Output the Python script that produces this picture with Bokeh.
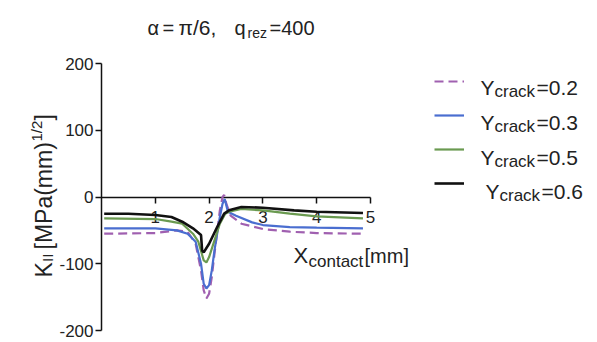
from bokeh.plotting import figure
from bokeh.models import LinearAxis, FixedTicker, Label, Legend, LegendItem, Range1d
from bokeh.embed import file_html
from bokeh.resources import INLINE
import math

# ---------------- data ----------------
x_02 = [0.05, 1.0, 1.4, 1.6, 1.75, 1.85, 1.9, 1.95, 2.0, 2.05, 2.1, 2.2, 2.25, 2.28, 2.32, 2.4, 2.6, 3.0, 3.5, 4.0, 4.86]
y_02 = [-55, -54, -50, -52, -70, -110, -140, -152, -145, -120, -85, -20, 0, 3, -10, -28, -40, -48, -52, -54, -55]

x_03 = [0.05, 1.0, 1.4, 1.6, 1.75, 1.85, 1.9, 1.95, 2.0, 2.05, 2.1, 2.2, 2.25, 2.29, 2.35, 2.5, 2.8, 3.0, 3.5, 4.0, 4.86]
y_03 = [-47, -47, -50, -55, -67, -100, -130, -137, -132, -110, -80, -30, -10, -3, -22, -28, -38, -42, -45, -46, -47]

x_05 = [0.05, 1.0, 1.3, 1.5, 1.7, 1.8, 1.9, 1.95, 2.0, 2.1, 2.2, 2.3, 2.37, 2.6, 3.0, 3.5, 4.0, 4.86]
y_05 = [-32, -33, -37, -40, -55, -67, -95, -98, -90, -65, -40, -25, -22, -18, -20, -25, -29, -32]

x_06 = [0.05, 0.5, 1.0, 1.3, 1.5, 1.7, 1.85, 1.87, 1.9, 2.0, 2.15, 2.28, 2.37, 2.6, 3.0, 3.58, 4.0, 4.86]
y_06 = [-25, -25, -27, -30, -37, -47, -57, -80, -83, -70, -45, -25, -20, -15, -16, -20, -22, -24]

series_names = ["0.2", "0.3", "0.5", "0.6"]
y_ticks = [-200, -100, 0, 100, 200]
y_tick_labels = {-200: "-200", -100: "-100", 0: "0", 100: "100", 200: "200"}
x_ticks = [1, 2, 3, 4, 5]
x_bounds = (0, 5)
y_bounds = (-200, 200)

# ---------------- layout ----------------
W, H = 597, 342
AL, AR, AT, AB = 101, 370, 63, 330  # where the axis box sits on the canvas (px)
FONT = "Liberation Sans"

sx = (AR - AL) / (x_bounds[1] - x_bounds[0])
sy = (AB - AT) / (y_bounds[1] - y_bounds[0])
x_range = Range1d(x_bounds[0] - AL / sx, x_bounds[1] + (W - AR) / sx)
y_range = Range1d(y_bounds[0] - (H - AB) / sy, y_bounds[1] + AT / sy)

p = figure(width=W, height=H, output_backend="svg", toolbar_location=None,
           x_range=x_range, y_range=y_range,
           min_border_left=0, min_border_right=0, min_border_top=0, min_border_bottom=0,
           x_axis_location=None, y_axis_location=None)
p.outline_line_color = None
p.grid.visible = False
p.background_fill_color = "white"
p.border_fill_color = "white"


def style_axis(ax):
    ax.axis_line_color = "#111111"
    ax.axis_line_width = 1.5
    ax.major_tick_line_color = "#111111"
    ax.major_tick_line_width = 1.5
    ax.minor_tick_line_color = None
    ax.major_label_text_font = FONT
    ax.major_label_text_font_size = "17px"
    ax.major_label_text_color = "#222222"


ya = LinearAxis(fixed_location=0, bounds=y_bounds, ticker=FixedTicker(ticks=y_ticks),
                major_label_overrides=y_tick_labels)
style_axis(ya)
ya.major_tick_out = 6
ya.major_tick_in = 0
ya.major_label_standoff = 2
p.add_layout(ya, "left")

xa = LinearAxis(fixed_location=0, bounds=x_bounds, ticker=FixedTicker(ticks=x_ticks))
style_axis(xa)
xa.major_tick_out = 6
xa.major_tick_in = 0
xa.major_label_standoff = 8
xa.level = "underlay"
p.add_layout(xa, "below")

# curves
r02 = p.line(x_02, y_02, line_color="#a060b0", line_width=2.2, line_dash="9 5")
r03 = p.line(x_03, y_03, line_color="#4a6ed0", line_width=2.2)
r05 = p.line(x_05, y_05, line_color="#6a9a50", line_width=2.2)
r06 = p.line(x_06, y_06, line_color="#111111", line_width=2.6)

# legend (samples only; texts added as labels)
legend = Legend(items=[LegendItem(label=" ", renderers=[r]) for r in (r02, r03, r05, r06)],
                location=(434, H - 193), orientation="vertical",
                glyph_width=30, glyph_height=20, label_height=20, label_width=0,
                label_standoff=0, spacing=14, padding=0, margin=0,
                border_line_alpha=0, background_fill_alpha=0,
                label_text_font_size="6px")
p.add_layout(legend, "center")


def lab(text, px, py, size, angle=0.0, color="#222222"):
    p.add_layout(Label(x=px, y=H - py, x_units="screen", y_units="screen",
                       text=text, text_font=FONT, text_font_size=f"{size}px",
                       text_color=color, text_align="left", text_baseline="alphabetic",
                       angle=angle))


# title
lab("α", 147, 27, 20)
lab("=", 162, 27, 20)
lab("π/6,", 178, 27, 21)
lab("q", 234, 27, 20)
lab("rez", 247, 32, 14)
lab("=400", 269, 27, 20)

# y axis label (rotated)
a = math.pi / 2
lab("K", 43, 277, 23, a)
lab("II", 47, 261.5, 15, a)
lab("[MPa(mm)", 43, 249, 23, a)
lab("1/2", 36, 141, 15, a)
lab("]", 43, 120, 23, a)

# x axis label
lab("X", 293, 255, 22)
lab("contact", 308, 261, 17)
lab("[mm]", 364, 255, 20)

# legend texts
rows = [(480, 87), (480, 122), (480, 156.5), (485, 190.5)]
for name, (tx, ty) in zip(series_names, rows):
    lab("Y", tx, ty, 21)
    lab("crack", tx + 14, ty + 4, 17)
    lab("=" + name, tx + 56, ty, 21)

open("out.html", "w").write(file_html(p, INLINE))
